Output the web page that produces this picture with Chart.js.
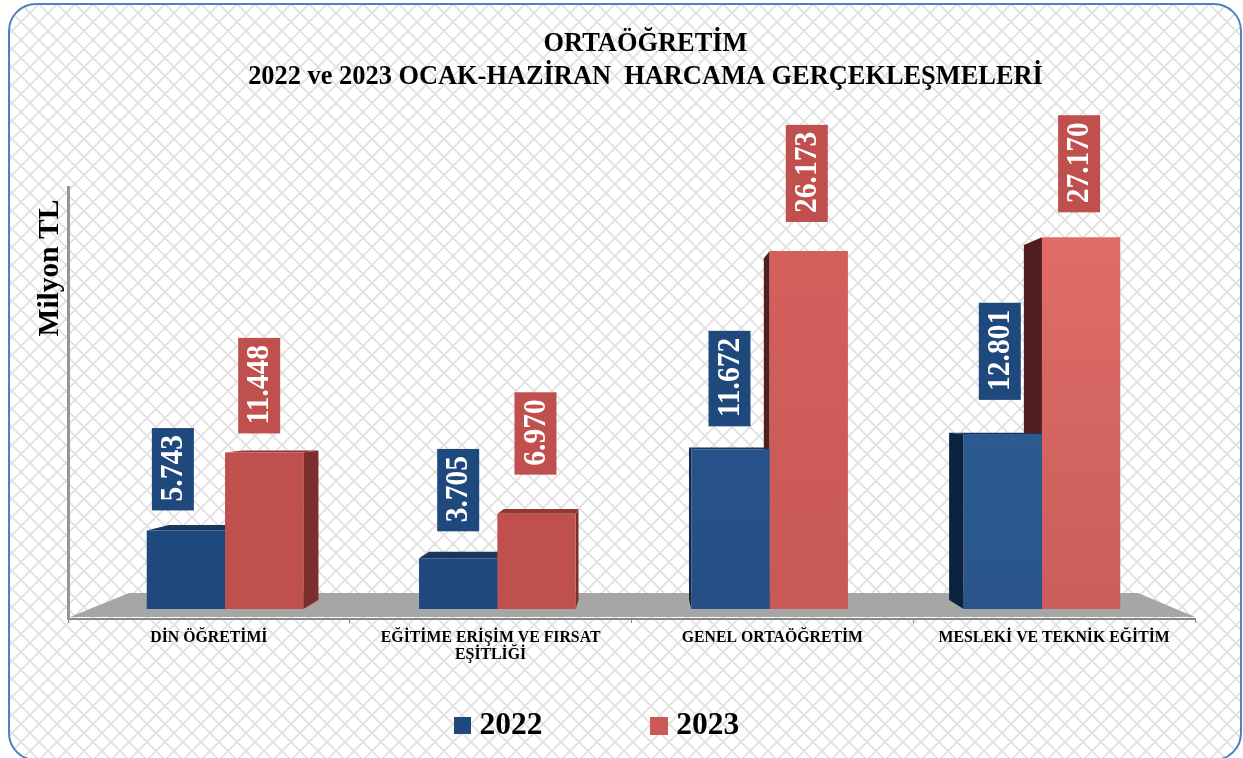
<!DOCTYPE html>
<html lang="tr"><head><meta charset="utf-8">
<style>html,body{margin:0;padding:0;background:#fff;overflow:hidden}#w{position:relative;width:1243px;height:758px}</style>
<script src="https://cdn.jsdelivr.net/npm/chart.js@4"></script>
</head><body><div id="w"><canvas id="c" width="1243" height="758"></canvas></div>
<script>
const categories = [["DİN ÖĞRETİMİ"], ["EĞİTİME ERİŞİM VE FIRSAT", "EŞİTLİĞİ"], ["GENEL ORTAÖĞRETİM"], ["MESLEKİ VE TEKNİK EĞİTİM"]];
const seriesNames = ["2022", "2023"];
const values2022 = [5.743, 3.705, 11.672, 12.801];
const values2023 = [11.448, 6.970, 26.173, 27.170];
const labels2022 = ["5.743", "3.705", "11.672", "12.801"];
const labels2023 = ["11.448", "6.970", "26.173", "27.170"];
const titleLines = ["ORTAÖĞRETİM", "2022 ve 2023 OCAK-HAZİRAN  HARCAMA GERÇEKLEŞMELERİ"];
const yAxisTitle = "Milyon TL";

// styles
const SERIF = '"Liberation Serif", serif';
const blueTop = ["#1F497D", "#1F497D", "#28528A", "#2C5A90"];
const blueBot = ["#1F497D", "#1F497D", "#264F85", "#29558B"];
const redTop = ["#C0504D", "#C0504D", "#D4605C", "#E06C67"];
const redBot = ["#C0504D", "#C0504D", "#C85955", "#C95E5A"];
const labelDX = [[-13, 0, -1, -3], [-5, -1, -2, -2]];
const labelGap = [[20, 27, 23, 34], [19, 39, 29, 25]];
const VP = { x: 640, y: 410, f: 0.045 };

function fill(tops, bots, flat) {
  return ctx => {
    const c = ctx.chart;
    if (ctx.type !== 'data' || !c.chartArea || !ctx.parsed) return flat;
    const y = c.scales.y;
    const g = c.ctx.createLinearGradient(0, y.getPixelForValue(ctx.parsed.y), 0, y.getPixelForValue(0));
    g.addColorStop(0, tops[ctx.dataIndex]); g.addColorStop(1, bots[ctx.dataIndex]);
    return g;
  };
}
function swatch(w, h, color) {
  const s = document.createElement('canvas'); s.width = w; s.height = h;
  const x = s.getContext('2d'); x.fillStyle = color; x.fillRect(0, 0, w, h); return s;
}
const swatches = [swatch(17, 17, '#1F497D'), swatch(18, 18, '#CD5957')];

function poly(ctx, pts, color) {
  ctx.fillStyle = color; ctx.beginPath();
  pts.forEach((p, i) => i ? ctx.lineTo(p[0], p[1]) : ctx.moveTo(p[0], p[1]));
  ctx.closePath(); ctx.fill();
}
const back = (x, y) => [x + (VP.x - x) * VP.f, y + (VP.y - y) * VP.f];

const scene = {
  id: 'scene',
  beforeLayout(chart) {
    const l = chart.legend;
    if (!l._wrapped) {
      l._wrapped = true;
      const f = l.fit;
      l.fit = function () { f.call(this); this.height = 0; };
    }
  },
  afterLayout(chart) {
    const t = chart.titleBlock; t.left += 14; t.right += 14;
    const l = chart.legend, p = l.options.labels.padding;
    l.left = 0; l.right = 1200; l.top = 710 - p; l.bottom = 758;
  },
  beforeDraw(chart) {
    const ctx = chart.ctx;
    const tile = document.createElement('canvas'); tile.width = tile.height = 18;
    const t = tile.getContext('2d');
    t.strokeStyle = '#E0E0E0'; t.lineWidth = 1.7;
    t.beginPath();
    t.moveTo(-2, -2); t.lineTo(20, 20); t.moveTo(20, -2); t.lineTo(-2, 20);
    t.stroke();
    ctx.save();
    ctx.fillStyle = '#fff'; ctx.fillRect(0, 0, 1243, 758);
    ctx.beginPath(); ctx.roundRect(9, 4, 1232, 756, 27);
    ctx.save(); ctx.clip();
    ctx.translate(3, 4);
    ctx.fillStyle = ctx.createPattern(tile, 'repeat'); ctx.fillRect(-3, -4, 1243, 770);
    ctx.restore();
    ctx.beginPath(); ctx.roundRect(9, 4, 1232, 756, 27);
    ctx.strokeStyle = '#4F81BD'; ctx.lineWidth = 2; ctx.stroke();
    ctx.restore();
  },
  beforeDatasetsDraw(chart) {
    const ctx = chart.ctx, a = chart.chartArea;
    ctx.save();
    poly(ctx, [[a.left + 2, a.bottom - 2], [129, 593], [1138, 593], [a.right, a.bottom - 2]], '#A6A6A6');
    [1, 0].forEach(ds => {
      const blue = ds === 0;
      chart.getDatasetMeta(ds).data.forEach(el => {
        const L = el.x - el.width / 2, R = el.x + el.width / 2, T = el.y, B = el.base;
        const bl = back(L, T), br = back(R, T), lb = back(L, B), rb = back(R, B);
        if (L > VP.x) poly(ctx, [[L, T], bl, lb, [L, B]], blue ? '#0C2340' : '#4E1F1E');
        if (R < VP.x) poly(ctx, [[R, T], br, rb, [R, B]], blue ? '#17375E' : '#7A2F2D');
        if (T > VP.y) poly(ctx, [[L, T], bl, br, [R, T]], blue ? '#17375E' : '#943634');
      });
    });
    ctx.restore();
  },
  afterDatasetsDraw(chart) {
    const ctx = chart.ctx;
    const sets = [labels2022, labels2023];
    const cols = ['#1F497D', '#C0504D'];
    ctx.save();
    ctx.textAlign = 'center'; ctx.textBaseline = 'middle';
    ctx.font = 'bold 29.5px ' + SERIF;
    sets.forEach((labs, ds) => {
      chart.getDatasetMeta(ds).data.forEach((el, i) => {
        const txt = labs[i], h = ctx.measureText(txt).width + 16, w = 42;
        const cx = el.x + labelDX[ds][i], bottom = el.y - labelGap[ds][i];
        ctx.fillStyle = cols[ds];
        ctx.fillRect(cx - w / 2, bottom - h, w, h);
        ctx.save();
        ctx.translate(cx + 1, bottom - h / 2 - 1);
        ctx.rotate(-Math.PI / 2);
        ctx.scale(1, 1.07);
        ctx.fillStyle = '#fff';
        ctx.fillText(txt, 0, 0);
        ctx.restore();
      });
    });
    ctx.translate(50, 268); ctx.rotate(-Math.PI / 2);
    ctx.fillStyle = '#000'; ctx.font = 'bold 29.5px ' + SERIF;
    ctx.fillText(yAxisTitle, 0, 0);
    ctx.restore();
  }
};

new Chart(document.getElementById('c'), {
  type: 'bar',
  data: {
    labels: categories,
    datasets: [
      { label: seriesNames[0], data: values2022.map((y, x) => ({ x, y })), backgroundColor: fill(blueTop, blueBot, '#1F497D') },
      { label: seriesNames[1], data: values2023.map((y, x) => ({ x, y })), backgroundColor: fill(redTop, redBot, '#CD5957') }
    ]
  },
  plugins: [scene],
  options: {
    responsive: false, animation: false,
    layout: { padding: { left: 68, right: 48, top: 0, bottom: 0 } },
    datasets: { bar: { categoryPercentage: 0.575, barPercentage: 1 } },
    plugins: {
      tooltip: { enabled: false },
      title: {
        display: true, text: titleLines, color: '#000',
        font: { family: SERIF, size: 26.4, weight: 'bold', lineHeight: 1.25 },
        padding: { top: 28, bottom: 93 }
      },
      legend: {
        display: true, position: 'bottom',
        labels: {
          color: '#000', padding: 115, usePointStyle: true, pointStyleWidth: 3, boxHeight: 18,
          font: { family: SERIF, size: 31.5, weight: 'bold' },
          generateLabels(chart) {
            return Chart.defaults.plugins.legend.labels.generateLabels(chart)
              .map((it, i) => Object.assign(it, { pointStyle: swatches[i] }));
          }
        }
      }
    },
    scales: {
      x: {
        type: 'linear', display: false, offset: false, min: -0.5766, max: 3.562,
        grid: { display: false, offset: false }, ticks: { stepSize: 1, includeBounds: false }
      },
      xCat: {
        type: 'category', axis: 'x', position: 'bottom', labels: categories, offset: true,
        afterFit(s) { s.height = 758 - 619; },
        border: { display: true, color: '#868686', width: 2 },
        grid: { display: true, drawOnChartArea: false, drawTicks: true, tickLength: 4, color: '#868686', offset: true },
        ticks: { autoSkip: false, maxRotation: 0, padding: 6, color: '#000', font: { family: SERIF, size: 15.8, weight: 'bold', lineHeight: 1.08 } }
      },
      y: {
        type: 'linear', position: 'left', min: -0.731, max: 30.85,
        afterFit(s) { s.width = 0; },
        grid: { display: false }, ticks: { display: false },
        border: { display: true, color: '#969696', width: 3 }
      }
    }
  }
});
</script></body></html>
